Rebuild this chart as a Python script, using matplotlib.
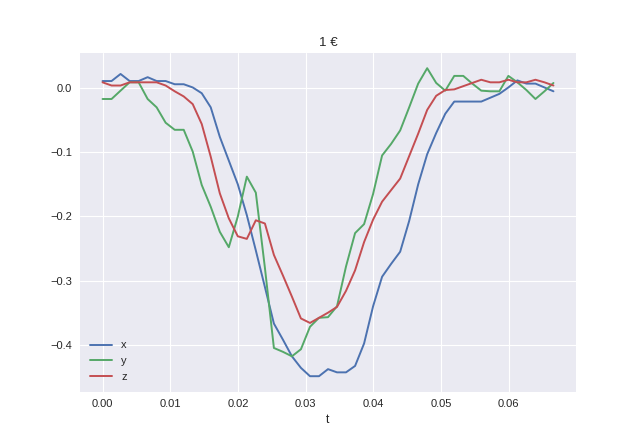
import matplotlib
matplotlib.use('Agg')
import matplotlib.pyplot as plt

# sample times (s)
t = [0.0, 0.00133, 0.00266, 0.004, 0.00533, 0.00666, 0.00799, 0.00932, 0.01066, 0.01199,
     0.01332, 0.01465, 0.01598, 0.01732, 0.01865, 0.01998, 0.02131, 0.02264, 0.02398, 0.02531,
     0.02664, 0.02797, 0.0293, 0.03064, 0.03197, 0.0333, 0.03463, 0.03596, 0.0373, 0.03863,
     0.03996, 0.04129, 0.04262, 0.04396, 0.04529, 0.04662, 0.04795, 0.04928, 0.05062, 0.05195,
     0.05328, 0.05461, 0.05594, 0.05728, 0.05861, 0.05994, 0.06127, 0.0626, 0.06394, 0.06527,
     0.0666]

x = [0.011, 0.011, 0.022, 0.011, 0.011, 0.017, 0.011, 0.011, 0.006, 0.006,
     0.001, -0.008, -0.030, -0.076, -0.113, -0.150, -0.198, -0.253, -0.310, -0.367,
     -0.392, -0.418, -0.436, -0.449, -0.449, -0.438, -0.443, -0.443, -0.433, -0.398,
     -0.340, -0.294, -0.274, -0.255, -0.207, -0.150, -0.103, -0.070, -0.040, -0.021,
     -0.021, -0.021, -0.021, -0.015, -0.009, 0.001, 0.012, 0.007, 0.007, 0.001,
     -0.005]

y = [-0.017, -0.017, -0.004, 0.009, 0.009, -0.017, -0.030, -0.054, -0.065, -0.065,
     -0.099, -0.151, -0.185, -0.224, -0.248, -0.200, -0.138, -0.163, -0.280, -0.405,
     -0.411, -0.418, -0.407, -0.372, -0.358, -0.357, -0.340, -0.278, -0.226, -0.212,
     -0.165, -0.105, -0.087, -0.066, -0.030, 0.007, 0.031, 0.008, -0.004, 0.019,
     0.019, 0.007, -0.004, -0.005, -0.005, 0.019, 0.009, -0.003, -0.017, -0.005,
     0.008]

z = [0.009, 0.004, 0.004, 0.009, 0.009, 0.009, 0.009, 0.004, -0.005, -0.013,
     -0.025, -0.056, -0.107, -0.164, -0.203, -0.231, -0.235, -0.206, -0.211, -0.260,
     -0.292, -0.325, -0.359, -0.366, -0.358, -0.350, -0.341, -0.316, -0.284, -0.240,
     -0.205, -0.177, -0.159, -0.141, -0.106, -0.071, -0.034, -0.012, -0.003, -0.002,
     0.003, 0.008, 0.013, 0.009, 0.009, 0.013, 0.009, 0.009, 0.013, 0.009,
     0.004]

plt.style.use('seaborn-v0_8')

# style default figsize is 8 x 5.5 in, saved at 80 dpi -> 640 x 440 px
fig, ax = plt.subplots(figsize=(8, 5.5))
ax.plot(t, x, label='x')
ax.plot(t, y, label='y')
ax.plot(t, z, label='z')
ax.set_title('1 €')
ax.set_xlabel('t')
ax.legend(loc='lower left')

fig.savefig('out.png', dpi=80)
